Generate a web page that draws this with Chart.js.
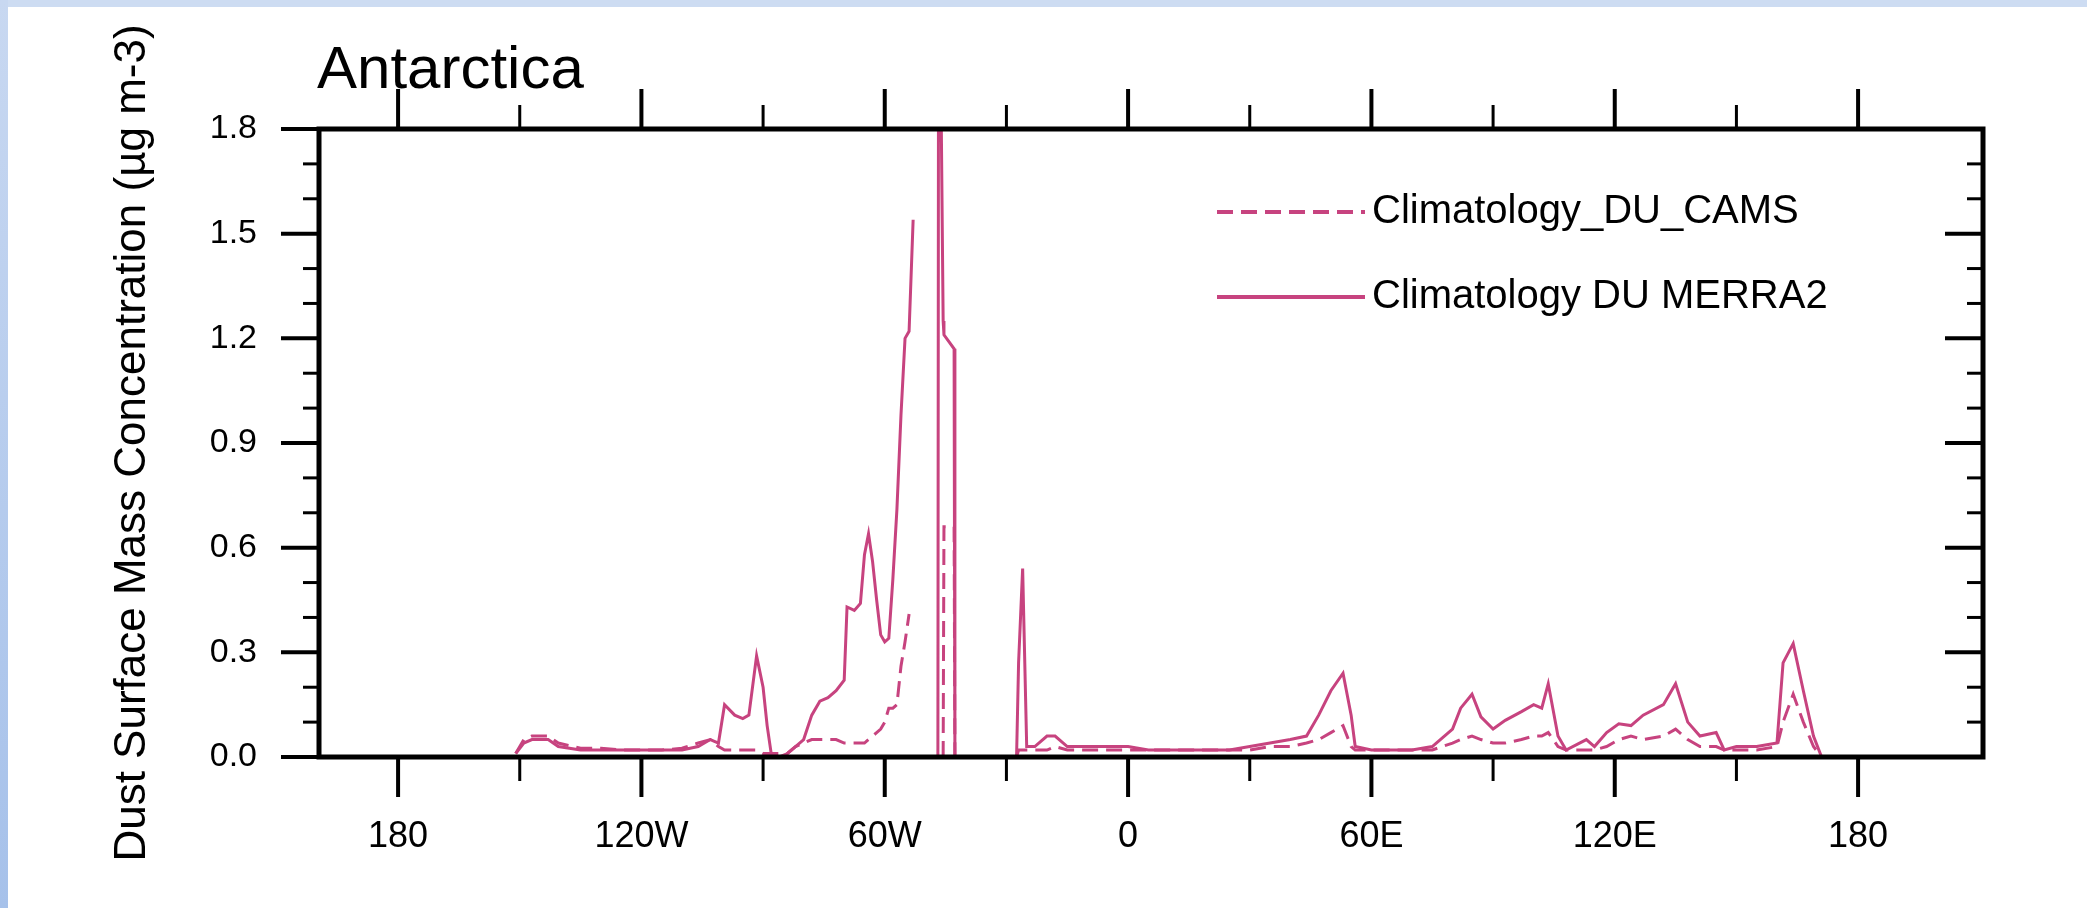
<!DOCTYPE html>
<html>
<head>
<meta charset="utf-8">
<title>Antarctica</title>
<script src="https://cdn.jsdelivr.net/npm/chart.js@4.4.1/dist/chart.umd.min.js"></script>
<style>
  html, body { margin: 0; padding: 0; background: #fff; }
  #wrap { position: relative; width: 2087px; height: 908px; overflow: hidden; }
  #chart { position: absolute; left: 0; top: 0; }
  .edge-top { position: absolute; left: 0; top: 0; width: 2087px; height: 7px; background: #cddcf2; }
  .edge-left { position: absolute; left: 0; top: 0; width: 8px; height: 908px; background: linear-gradient(#c8d8f1, #a6c1ea); }
</style>
</head>
<body>
<div id="wrap">
  <canvas id="chart" width="2087" height="908"></canvas>
  <div class="edge-top"></div>
  <div class="edge-left"></div>
</div>
<script>
var chartTitle = 'Antarctica';
var yTitle = 'Dust Surface Mass Concentration (\u00b5g m-3)';

// longitude (deg, west negative); null rows are gaps with no data
var lon = [
  -151, -149, -147, -143, -140.5, -135, -130, -125, -120, -115, -110, -106, -103, -101, -99.5, -97,
  -95, -93.5, -91.6, -90, -89, -88, -86, -84, -82, -80, -78, -76, -74, -72, -70, -69.3,
  -67.5, -66, -65, -64, -63, -62, -61, -60, -59, -58, -57, -56, -55, -54, -53,
  -50,
  -46.9, -46.7, -45.6, -45.4, -42.9, -42.7,
  -35,
  -27.5, -27, -26, -25, -23, -20, -18, -15, -10, -5, 0, 5, 10, 15, 20, 25,
  30, 35, 40, 44, 47, 50, 53, 55, 56, 60, 65, 70, 75, 80, 82, 84.8,
  87, 90, 93, 97, 100, 102, 103.6, 106, 108, 113, 115, 118, 121, 124, 127, 132,
  135, 138, 141, 145, 147, 150, 155, 160, 161.5, 164, 166.5, 169, 171
];

var duMerra = [
  0.01, 0.04, 0.05, 0.05, 0.03, 0.02, 0.02, 0.02, 0.02, 0.02, 0.02, 0.03, 0.05, 0.04, 0.15, 0.12,
  0.11, 0.12, 0.29, 0.20, 0.09, 0.01, 0.00, 0.01, 0.03, 0.05, 0.12, 0.16, 0.17, 0.19, 0.22, 0.43,
  0.42, 0.44, 0.58, 0.64, 0.56, 0.45, 0.35, 0.33, 0.34, 0.51, 0.71, 0.98, 1.20, 1.22, 1.54,
  null,
  0.00, 2.60, 1.25, 1.21, 1.17, 0.00,
  null,
  0.00, 0.27, 0.54, 0.03, 0.03, 0.06, 0.06, 0.03, 0.03, 0.03, 0.03, 0.02, 0.02, 0.02, 0.02, 0.02,
  0.03, 0.04, 0.05, 0.06, 0.12, 0.19, 0.24, 0.12, 0.03, 0.02, 0.02, 0.02, 0.03, 0.08, 0.14, 0.18,
  0.115, 0.08, 0.105, 0.13, 0.15, 0.14, 0.21, 0.06, 0.02, 0.05, 0.03, 0.07, 0.095, 0.09, 0.12, 0.15,
  0.21, 0.10, 0.06, 0.07, 0.02, 0.03, 0.03, 0.04, 0.27, 0.325, 0.19, 0.06, 0.00
];

var duCams = [
  0.01, 0.05, 0.06, 0.06, 0.04, 0.025, 0.025, 0.02, 0.02, 0.02, 0.025, 0.04, 0.05, 0.03, 0.02, 0.02,
  0.02, 0.02, 0.02, 0.01, 0.01, 0.01, 0.01, 0.01, 0.03, 0.04, 0.05, 0.05, 0.05, 0.05, 0.04, 0.04,
  0.04, 0.04, 0.04, 0.05, 0.06, 0.07, 0.08, 0.10, 0.14, 0.14, 0.15, 0.26, 0.33, 0.41, null,
  null,
  null, null, 0.00, 0.66, 0.66, 0.00,
  null,
  0.00, 0.02, 0.02, 0.02, 0.02, 0.02, 0.03, 0.02, 0.02, 0.02, 0.02, 0.02, 0.02, 0.02, 0.02, 0.02,
  0.02, 0.03, 0.03, 0.04, 0.05, 0.07, 0.09, 0.03, 0.02, 0.02, 0.02, 0.02, 0.02, 0.04, 0.05, 0.06,
  0.05, 0.04, 0.04, 0.05, 0.06, 0.06, 0.07, 0.03, 0.02, 0.02, 0.02, 0.03, 0.05, 0.06, 0.05, 0.06,
  0.08, 0.05, 0.03, 0.03, 0.02, 0.02, 0.02, 0.03, 0.10, 0.18, 0.10, 0.03, 0.00
];

var xTickValues = [-180, -120, -60, 0, 60, 120, 180];
var xTickLabels = ['180', '120W', '60W', '0', '60E', '120E', '180'];
var xMinorTicks = [-150, -90, -30, 30, 90, 150];
var yTickValues = [0, 0.3, 0.6, 0.9, 1.2, 1.5, 1.8];
var yMinorTicks = [0.1, 0.2, 0.4, 0.5, 0.7, 0.8, 1.0, 1.1, 1.3, 1.4, 1.6, 1.7];

var FONT = '"Liberation Sans", Arial, sans-serif';
var LINE_COLOR = '#c7437f';

function toPoints(values) {
  return lon.map(function (x, i) {
    return { x: x, y: values[i] };
  });
}

// frame, ticks on all four sides, title and legend box
var framePlugin = {
  id: 'frame',
  afterDatasetsDraw: function (chart) {
    var ctx = chart.ctx;
    var a = chart.chartArea;
    var xs = chart.scales.x;
    var ys = chart.scales.y;

    function seg(x1, y1, x2, y2) {
      ctx.beginPath();
      ctx.moveTo(x1, y1);
      ctx.lineTo(x2, y2);
      ctx.stroke();
    }
    function xTick(v, len, w) {
      var px = xs.getPixelForValue(v);
      ctx.lineWidth = w;
      seg(px, a.bottom, px, a.bottom + len);
      seg(px, a.top, px, a.top - len);
    }
    function yTick(v, len, w) {
      var py = ys.getPixelForValue(v);
      ctx.lineWidth = w;
      seg(a.left - len, py, a.left, py);
      seg(a.right - len, py, a.right, py);
    }

    ctx.save();
    ctx.strokeStyle = '#000';
    xTickValues.forEach(function (v) { xTick(v, 40, 4); });
    xMinorTicks.forEach(function (v) { xTick(v, 24, 3); });
    yTickValues.forEach(function (v) { yTick(v, 38, 4); });
    yMinorTicks.forEach(function (v) { yTick(v, 16, 3); });

    ctx.lineWidth = 5;
    ctx.strokeRect(a.left, a.top, a.right - a.left, a.bottom - a.top);

    ctx.fillStyle = '#000';
    ctx.font = '60px ' + FONT;
    ctx.textAlign = 'left';
    ctx.textBaseline = 'alphabetic';
    ctx.fillText(chartTitle, a.left - 2, 88);

    ctx.font = '40px ' + FONT;
    ctx.textBaseline = 'middle';
    chart.data.datasets.forEach(function (ds, i) {
      var y = a.top + 83 + i * 85;
      var x0 = a.right - 766;
      ctx.strokeStyle = ds.borderColor;
      ctx.lineWidth = 4;
      ctx.setLineDash(ds.borderDash || []);
      seg(x0, y, x0 + 148, y);
      ctx.setLineDash([]);
      ctx.fillText(ds.label, x0 + 155, y);
    });
    ctx.restore();
  }
};

var ctx = document.getElementById('chart');
new Chart(ctx, {
  type: 'line',
  data: {
    datasets: [
      {
        label: 'Climatology_DU_CAMS',
        data: toPoints(duCams),
        borderColor: LINE_COLOR,
        borderWidth: 3,
        borderDash: [16, 8],
        pointRadius: 0,
        tension: 0,
        fill: false
      },
      {
        label: 'Climatology DU MERRA2',
        data: toPoints(duMerra),
        borderColor: LINE_COLOR,
        borderWidth: 3,
        pointRadius: 0,
        tension: 0,
        fill: false
      }
    ]
  },
  options: {
    responsive: false,
    animation: false,
    events: [],
    layout: { padding: { top: 129, right: 104, left: 0, bottom: 0 } },
    plugins: {
      legend: { display: false },
      title: { display: false },
      tooltip: { enabled: false }
    },
    scales: {
      x: {
        type: 'linear',
        min: -199.5,
        max: 210.8,
        grid: { display: false, drawTicks: false },
        border: { display: false },
        afterBuildTicks: function (scale) {
          scale.ticks = xTickValues.map(function (v) { return { value: v }; });
        },
        afterFit: function (scale) { scale.height = 151; },
        ticks: {
          autoSkip: false,
          maxRotation: 0,
          padding: 58,
          color: '#000',
          font: { family: FONT, size: 36 },
          callback: function (value, index) { return xTickLabels[index]; }
        }
      },
      y: {
        min: 0,
        max: 1.8,
        grid: { display: false, drawTicks: false },
        border: { display: false },
        afterBuildTicks: function (scale) {
          scale.ticks = yTickValues.map(function (v) { return { value: v }; });
        },
        afterFit: function (scale) { scale.width = 319; },
        ticks: {
          padding: 62,
          color: '#000',
          font: { family: FONT, size: 34 },
          callback: function (value) { return value.toFixed(1); }
        },
        title: {
          display: true,
          text: yTitle,
          color: '#000',
          font: { family: FONT, size: 44 },
          padding: { top: 106, bottom: 0 }
        }
      }
    }
  },
  plugins: [framePlugin]
});
</script>
</body>
</html>
